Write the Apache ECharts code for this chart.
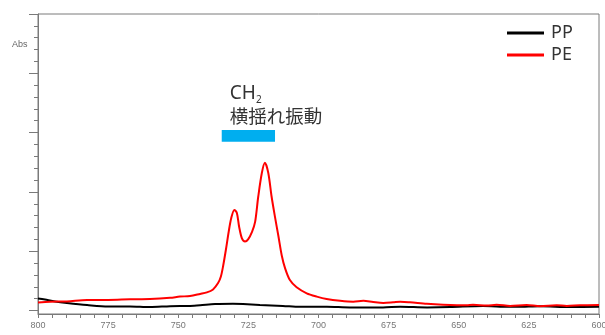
<!DOCTYPE html>
<html>
<head>
<meta charset="utf-8">
<script src="https://cdn.jsdelivr.net/npm/echarts@6/dist/echarts.min.js"></script>
<style>
  html, body { margin: 0; padding: 0; background: #fff; }
  #chart { width: 605px; height: 335px; }
</style>
</head>
<body>
<div id="chart"></div>
<script>
// IR absorbance spectra, wavenumber (cm-1) vs absorbance
const seriesNames = ['PP', 'PE'];

const ppWavenumber = [800, 797.5, 793.9, 789.7, 782.5, 775, 767.2, 760.1, 752.9, 745.8, 742.2, 736.9, 730.5, 726.9, 720.9, 712.7, 706.6, 697.0, 688.8, 677.0, 670.9, 661.3, 653.1, 641.4, 635.3, 629.2, 621.0, 610.3, 600];
const ppAbs = [0.052, 0.048, 0.042, 0.037, 0.030, 0.025, 0.025, 0.023, 0.026, 0.027, 0.029, 0.033, 0.034, 0.033, 0.030, 0.027, 0.024, 0.024, 0.022, 0.022, 0.024, 0.022, 0.023, 0.027, 0.024, 0.024, 0.026, 0.023, 0.024];

const peWavenumber = [800, 795.7, 789.7, 782.5, 775, 767.2, 760.1, 752.9, 749.4, 745.8, 742.2, 739.8, 737.6, 735.8, 734.8, 734.0, 733.0, 732.0, 731.1, 730.0, 729.1, 728.3, 727.3, 726.2, 725.1, 723.7, 722.6, 721.5, 720.2, 719.1, 717.9, 716.7, 715.5, 714.3, 713.1, 711.9, 710.2, 707.8, 704.2, 700.6, 697.1, 692.3, 687.6, 684.0, 680.5, 676.9, 673.4, 670.9, 667.4, 661.4, 655.6, 647.2, 644.9, 640.0, 636.5, 631.7, 625.8, 621.0, 615.1, 611.5, 606.8, 600];
const peAbs = [0.038, 0.041, 0.042, 0.047, 0.047, 0.049, 0.050, 0.054, 0.058, 0.060, 0.067, 0.072, 0.082, 0.103, 0.125, 0.160, 0.215, 0.275, 0.320, 0.347, 0.337, 0.291, 0.252, 0.242, 0.249, 0.274, 0.307, 0.390, 0.470, 0.504, 0.470, 0.390, 0.323, 0.260, 0.195, 0.152, 0.113, 0.089, 0.069, 0.058, 0.050, 0.044, 0.041, 0.044, 0.040, 0.037, 0.039, 0.041, 0.039, 0.034, 0.031, 0.029, 0.031, 0.028, 0.031, 0.027, 0.030, 0.026, 0.029, 0.027, 0.029, 0.030];

// CH2 rocking band marker: wavenumber span and absorbance span of the bar
const bandWavenumber = [734.5, 715.5];
const bandAbs = [0.574, 0.613];
// anchor of the band caption (left edge, vertical centre)
const captionAt = [731.6, 0.697];

const xTicks = { min: 600, max: 800, step: 25 };

const zip = (xs, ys) => xs.map((x, i) => [x, ys[i]]);

const chart = echarts.init(document.getElementById('chart'), null, { renderer: 'canvas' });
const frame = '#7a7a7a';

chart.setOption({
  animation: false,
  backgroundColor: '#ffffff',
  title: {
    text: 'Abs',
    left: 12, top: 40,
    padding: 0,
    textStyle: { fontSize: 9, fontWeight: 'normal', color: '#666', fontFamily: 'Liberation Sans, Arial, sans-serif' }
  },
  legend: {
    data: seriesNames,
    orient: 'vertical',
    left: 507, top: 22,
    padding: 0,
    icon: 'rect',
    itemWidth: 37, itemHeight: 3,
    itemGap: 0,
    textStyle: { fontSize: 18, lineHeight: 22, color: '#333', fontFamily: 'Noto Sans, sans-serif', padding: [0, 0, 0, 2] }
  },
  grid: [
    { left: 38, right: 6, top: 14, bottom: 21, show: true, borderColor: frame, borderWidth: 1, backgroundColor: 'transparent', outerBoundsMode: 'none', containLabel: false },
    // tick ruler for the unlabelled absorbance scale
    { left: 38, right: 6, top: 14, bottom: 24.5, show: false, outerBoundsMode: 'none', containLabel: false }
  ],
  xAxis: [
    {
      gridIndex: 0,
      type: 'value',
      inverse: true,
      min: xTicks.min, max: xTicks.max, interval: xTicks.step,
      axisLine: { show: true, lineStyle: { color: frame, width: 1 } },
      axisTick: { show: true, inside: false, length: 4, lineStyle: { color: frame } },
      minorTick: { show: true, splitNumber: 5, length: 4, lineStyle: { color: frame } },
      axisLabel: { show: true, fontSize: 9, color: '#777', margin: 7, fontFamily: 'Liberation Sans, Arial, sans-serif', showMinLabel: true, showMaxLabel: true, hideOverlap: false },
      splitLine: { show: false }
    },
    { gridIndex: 1, type: 'value', min: 0, max: 1, show: false }
  ],
  yAxis: [
    {
      gridIndex: 0,
      type: 'value',
      min: 0, max: 1,
      axisLine: { show: true, lineStyle: { color: frame, width: 1 } },
      axisTick: { show: false },
      axisLabel: { show: false },
      splitLine: { show: false }
    },
    {
      gridIndex: 1,
      type: 'value',
      min: 0, max: 5, interval: 1,
      axisLine: { show: false },
      axisTick: { show: true, length: 9, lineStyle: { color: frame } },
      minorTick: { show: true, splitNumber: 5, length: 4, lineStyle: { color: frame } },
      axisLabel: { show: false },
      splitLine: { show: false }
    }
  ],
  series: [
    {
      name: 'PP',
      type: 'line',
      xAxisIndex: 0, yAxisIndex: 0,
      data: zip(ppWavenumber, ppAbs),
      showSymbol: false,
      smooth: 0.3,
      lineStyle: { color: '#000000', width: 2 },
      itemStyle: { color: '#000000' },
      z: 3
    },
    {
      name: 'PE',
      type: 'line',
      xAxisIndex: 0, yAxisIndex: 0,
      data: zip(peWavenumber, peAbs),
      showSymbol: false,
      smooth: 0.3,
      lineStyle: { color: '#ff0000', width: 2 },
      itemStyle: { color: '#ff0000' },
      z: 4,
      markArea: {
        silent: true,
        itemStyle: { color: '#00aeef', opacity: 1 },
        data: [[
          { coord: [bandWavenumber[0], bandAbs[0]] },
          { coord: [bandWavenumber[1], bandAbs[1]] }
        ]]
      },
      markPoint: {
        silent: true,
        symbol: 'circle',
        symbolSize: 0,
        data: [{ coord: captionAt }],
        label: {
          show: true,
          position: 'right',
          distance: 0,
          formatter: '{a|CH}{s|2}\n{b|横揺れ振動}',
          rich: {
            a: { fontSize: 19, lineHeight: 22, color: '#333', fontFamily: 'Noto Sans, sans-serif' },
            s: { fontSize: 10, lineHeight: 10, verticalAlign: 'bottom', color: '#333', fontFamily: 'Noto Sans, sans-serif' },
            b: { fontSize: 18.5, lineHeight: 22, color: '#333', fontFamily: 'Noto Sans CJK JP, sans-serif' }
          }
        }
      }
    }
  ]
});
</script>
</body>
</html>
